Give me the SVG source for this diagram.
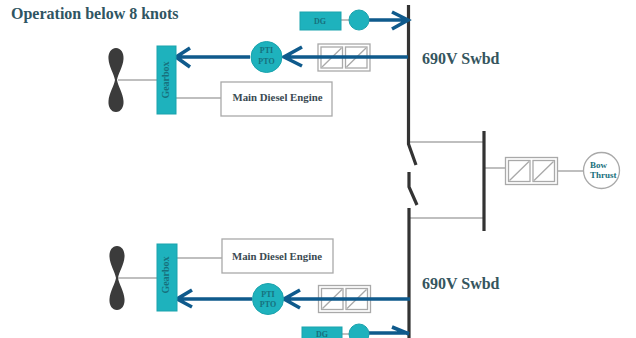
<svg xmlns="http://www.w3.org/2000/svg" width="636" height="338" viewBox="0 0 636 338">
<defs>
<path id="prop" d="M0 -32 C-5 -32 -8 -27 -7.500 -21 C-7 -13 -2 -6 -1 0 C-2 6 -7 13 -7.500 21 C-8 27 -5 32 0 32 C5 32 8 27 7.500 21 C7 13 2 6 1 0 C2 -6 7 -13 7.500 -21 C8 -27 5 -32 0 -32 Z"/>
<g id="conv"><rect x="0" y="0" width="52" height="27" class="thin"/><rect x="3" y="3" width="21.500" height="21" class="thin"/><rect x="27.500" y="3" width="21.500" height="21" class="thin"/><path d="M4 23 L23.500 4 M28.500 23 L48 4" class="thin"/></g>
</defs>
<style>
text{font-family:"Liberation Serif",serif;font-weight:bold}
.thin{fill:none;stroke:#a9a9a9;stroke-width:1.3}
.link{fill:none;stroke:#aaa;stroke-width:1.6}
.bus{fill:none;stroke:#333;stroke-width:3.2}
.flow{fill:none;stroke:#0f5a8c;stroke-width:3.6}
.teal{fill:#1eb2bd;stroke:#1ba3ad;stroke-width:1}
.box{fill:#fff;stroke:#a9a9a9;stroke-width:1.3}
.lbl{font-size:10.8px;fill:#3a4a52;text-anchor:middle}
.tl{font-size:8px;fill:#17707c;text-anchor:middle}
.gb{font-size:10px}
.bt{font-size:9px;text-anchor:start}
.swbd{font-size:16px;fill:#35555e}
</style>
<rect width="636" height="338" fill="#fff"/>
<text x="11" y="19" font-size="16" fill="#2f5562">Operation below 8 knots</text>
<g id="converter-top"><use href="#conv" x="318" y="44"/></g>
<g id="converter-bottom"><use href="#conv" x="318.500" y="285.500"/></g>
<g id="converter-bow"><use href="#conv" x="505.500" y="157.500"/></g>
<g id="connectors">
<path class="link" d="M118 80 H157 M176 98 H221 M341 20 H350"/>
<path class="link" d="M118 278 H157 M177 258 H222 M342 334 H350"/>
<path class="link" d="M410 142 H484 M410 218 H484 M484 168 H505 M558 171 H583"/>
<path class="bus" d="M408.500 5 V144 L416 165 M409 172 V187 L417 205 M409 208 V338 M484 131 V231"/>
<path class="flow" d="M369 20 H408 M392 12 L408 20 L392 29"/>
<path class="flow" d="M408 57 H284 M302 47 L284 57 L302 66"/>
<path class="flow" d="M250 57 H176 M190 48 L176 57 L190 67"/>
<path class="flow" d="M410 299 H284 M300 290 L284 299 L300 308"/>
<path class="flow" d="M252 299 H177 M192 290 L177 299 L192 307"/>
<path class="flow" d="M369 333 H409 M392 327 L409 334"/>
</g>
<g id="propeller-top"><use href="#prop" x="116" y="80" fill="#3b3b3b"/></g>
<g id="propeller-bottom"><use href="#prop" x="117" y="278" fill="#3b3b3b"/></g>
<g id="gearbox-top"><rect class="teal" x="157" y="46" width="19" height="68"/><text class="tl gb" transform="translate(169 80) rotate(-90)">Gearbox</text></g>
<g id="gearbox-bottom"><rect class="teal" x="157" y="244" width="20" height="67"/><text class="tl gb" transform="translate(169 275) rotate(-90)">Gearbox</text></g>
<g id="engine-top"><rect class="box" x="221" y="82" width="111" height="34"/><text class="lbl" x="277.500" y="101">Main Diesel Engine</text></g>
<g id="engine-bottom"><rect class="box" x="222" y="239" width="111" height="34"/><text class="lbl" x="277" y="260">Main Diesel Engine</text></g>
<g id="dg-top"><rect class="teal" x="300" y="12" width="41" height="18"/><text class="tl" x="320" y="24">DG</text></g>
<g id="motor-top"><circle class="teal" cx="359" cy="20" r="10"/></g>
<g id="dg-bottom"><rect class="teal" x="302" y="327" width="40" height="18"/><text class="tl" x="322" y="337">DG</text></g>
<g id="motor-bottom"><circle class="teal" cx="359" cy="334" r="10"/></g>
<g id="pti-top"><circle class="teal" cx="266.500" cy="57" r="15.500"/><text class="tl" x="266.500" y="53">PTI</text><text class="tl" x="266.500" y="64">PTO</text></g>
<g id="pti-bottom"><circle class="teal" cx="268" cy="299" r="15.500"/><text class="tl" x="268" y="297">PTI</text><text class="tl" x="268" y="307">PTO</text></g>
<g id="bow-thrust"><circle cx="601.500" cy="170.500" r="18" fill="#fff" stroke="#a9a9a9" stroke-width="1.3"/><text class="tl bt" x="590" y="168">Bow</text><text class="tl bt" x="590" y="178">Thrust</text></g>
<text class="swbd" x="422" y="64">690V Swbd</text>
<text class="swbd" x="422" y="289">690V Swbd</text>
</svg>
